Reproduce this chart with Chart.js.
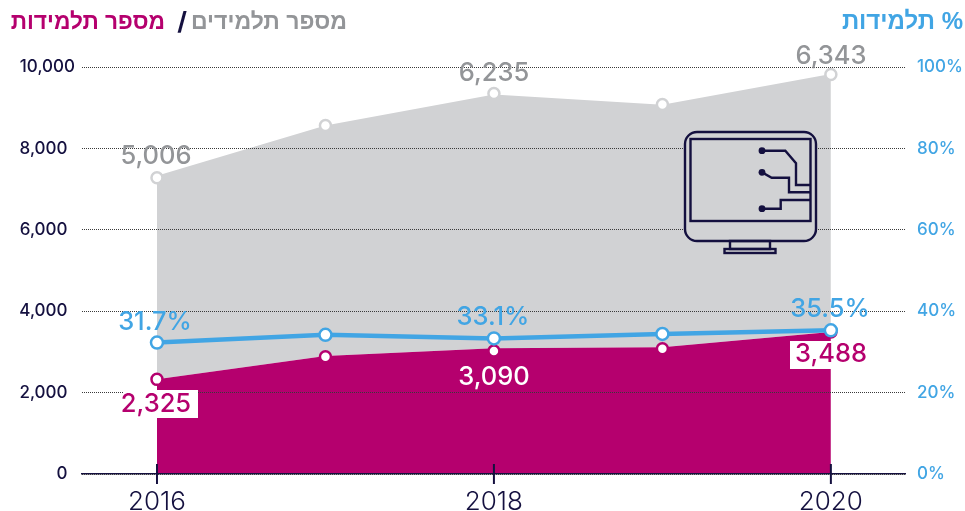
<!DOCTYPE html>
<html lang="he">
<head>
<meta charset="utf-8">
<title>מספר תלמידות / מספר תלמידים</title>
<style>
  body { margin: 0; background: #fff; overflow: hidden; }
  #wrap { position: relative; width: 965px; height: 511px; }
  canvas { display: block; }
  .ttl { position: absolute; top: 5px; direction: rtl; white-space: nowrap;
         font: bold 23px "Liberation Sans", sans-serif; line-height: 32px; }
  #icon { position: absolute; left: 0; top: 0; pointer-events: none; }
</style>
</head>
<body>
<div id="wrap">
  <canvas id="chart" width="965" height="511"></canvas>
  <span class="ttl" style="right:618px;color:#939598">מספר תלמידים</span>
  <span class="ttl" style="right:778px;color:#14103f;font:bold 25px Inter,sans-serif;line-height:32px">/</span>
  <span class="ttl" style="right:800px;color:#b5006e;font-size:22.7px">מספר תלמידות</span>
  <span class="ttl" style="right:2px;color:#41a5e4;font-size:24px">% תלמידות</span>
  <svg id="icon" width="965" height="511" fill="none" stroke="#14103f" stroke-width="2.4">
    <rect x="685" y="132" width="131" height="109" rx="12" fill="#d1d2d4"/>
    <rect x="690.5" y="139" width="120" height="82"/>
    <rect x="730" y="241" width="40" height="8"/>
    <rect x="724.5" y="249" width="51" height="4"/>
    <path d="M762 150.7H785.3L796 163.3V185H810M762 172.3L771.7 177.7H789V192.3H810M762 208.7H780.7V200H810"/>
    <g fill="#14103f" stroke="none">
      <circle cx="762" cy="150.7" r="3.4"/><circle cx="762" cy="172.3" r="3.4"/><circle cx="762" cy="208.7" r="3.4"/>
    </g>
  </svg>
</div>
<script src="https://cdn.jsdelivr.net/npm/chart.js@4/dist/chart.umd.min.js"></script>
<script>
const years = [2016, 2017, 2018, 2019, 2020];
const girls = [2325, 2900, 3090, 3115, 3488];
const boys = [5006, 5660, 6235, 5960, 6343];
const girlsDots = [2325, 2878, 3020, 3075, 3488];
const totalDots = [7281, 8561, 9348, 9077, 9815];
const sharePct = [32.3, 34.2, 33.3, 34.4, 35.3];

const yearTicks = [2016, 2018, 2020];
const leftTicks = [0, 2000, 4000, 6000, 8000, 10000];
const rightTicks = [0, 20, 40, 60, 80, 100];

const boysLabels = ['5,006', '6,235', '6,343'];
const girlsLabels = ['2,325', '3,090', '3,488'];
const shareLabels = ['31.7%', '33.1%', '35.5%'];

const PINK = '#b5006e', GREY = '#d1d2d4', GREY_TXT = '#939598', BLUE = '#41a5e4', NAVY = '#14103f';
const NUM_FONT = '500 25.5px Inter, "DejaVu Sans", sans-serif';

const pts = (vals) => years.map((x, i) => ({ x, y: vals[i] }));

// marks the axis can't do: ticks crossing the baseline, white boxes, value labels
const overlay = {
  id: 'overlay',
  afterDraw(chart) {
    const { ctx, scales } = chart;
    const px = (v) => scales.x.getPixelForValue(v);
    const base = scales.y.getPixelForValue(0);

    ctx.save();
    ctx.strokeStyle = NAVY;
    ctx.lineWidth = 2;
    yearTicks.forEach(v => {
      ctx.beginPath();
      ctx.moveTo(px(v), base - 10);
      ctx.lineTo(px(v), base + 10);
      ctx.stroke();
    });

    ctx.fillStyle = '#fff';
    ctx.fillRect(123, 390, 75, 28);
    ctx.fillRect(790, 341, 42, 28);

    ctx.font = NUM_FONT;
    ctx.textAlign = 'center';
    ctx.textBaseline = 'alphabetic';
    const put = (txt, x, y, col) => { ctx.fillStyle = col; ctx.fillText(txt, x, y); };

    put(boysLabels[0], 156, 164, GREY_TXT);
    put(boysLabels[1], 494, 81, GREY_TXT);
    put(boysLabels[2], 831, 64, GREY_TXT);

    put(shareLabels[0], 155, 330, BLUE);
    put(shareLabels[1], 493, 325, BLUE);
    put(shareLabels[2], 830, 317, BLUE);

    put(girlsLabels[0], 156, 412, PINK);
    put(girlsLabels[1], 494, 385, '#fff');
    put(girlsLabels[2], 831, 362, PINK);
    ctx.restore();
  }
};

new Chart(document.getElementById('chart'), {
  type: 'line',
  data: {
    datasets: [
      { data: pts(girls), stack: 'area', order: 5, borderWidth: 0, pointRadius: 0, backgroundColor: PINK, fill: 'origin' },
      { data: pts(boys), stack: 'area', order: 6, borderWidth: 0, pointRadius: 0, backgroundColor: GREY, fill: '-1' },
      { data: pts(totalDots), stack: 'm1', order: 3, showLine: false, pointRadius: 5.5, pointBorderWidth: 2.5,
        pointBackgroundColor: '#fff', pointBorderColor: GREY },
      { data: pts(girlsDots), stack: 'm2', order: 2, showLine: false, pointRadius: 5.5, pointBorderWidth: 2.5,
        pointBackgroundColor: '#fff', pointBorderColor: PINK },
      { data: pts(sharePct), yAxisID: 'y1', order: 1, borderColor: BLUE, borderWidth: 4.5, pointRadius: 6,
        pointBorderWidth: 2.5, pointBackgroundColor: '#fff', pointBorderColor: BLUE, fill: false }
    ]
  },
  plugins: [overlay],
  options: {
    responsive: false,
    animation: false,
    layout: { padding: { top: 67, right: 0, left: 0, bottom: 0 } },
    plugins: { legend: { display: false }, tooltip: { enabled: false } },
    elements: { line: { tension: 0 } },
    scales: {
      x: {
        type: 'linear',
        min: 2015.555,
        max: 2020.44,
        afterBuildTicks: (s) => { s.ticks = yearTicks.map(value => ({ value })); },
        afterFit: (s) => { s.height = 37; },
        grid: { display: false, drawTicks: false },
        border: { display: true, color: NAVY, width: 1.5, z: 1 },
        ticks: {
          padding: 13,
          autoSkip: false,
          maxRotation: 0,
          color: NAVY,
          font: { family: 'Inter', size: 26, weight: '300' },
          callback: (v) => String(v)
        }
      },
      y: {
        position: 'left',
        stacked: true,
        min: 0,
        max: 10000,
        afterBuildTicks: (s) => { s.ticks = leftTicks.map(value => ({ value })); },
        afterFit: (s) => { s.width = 82; },
        grid: { color: '#3a3a3a', z: 1, drawTicks: false },
        border: { display: false, dash: [1, 1] },
        ticks: {
          padding: 7,
          color: NAVY,
          font: { family: 'Inter', size: 17, weight: '500' },
          // 10,000 hangs further right than the others in the original
          callback: (v) => v === 10000 ? v.toLocaleString('en-US') : v.toLocaleString('en-US') + '\u00a0\u2009'
        }
      },
      y1: {
        position: 'right',
        min: 0,
        max: 100,
        afterBuildTicks: (s) => { s.ticks = rightTicks.map(value => ({ value })); },
        afterFit: (s) => { s.width = 60; },
        grid: { display: false, drawTicks: false },
        border: { display: false },
        ticks: {
          padding: 12,
          color: BLUE,
          font: { family: 'Inter', size: 17, weight: '500' },
          callback: (v) => v + '%'
        }
      }
    }
  }
});
</script>
</body>
</html>
